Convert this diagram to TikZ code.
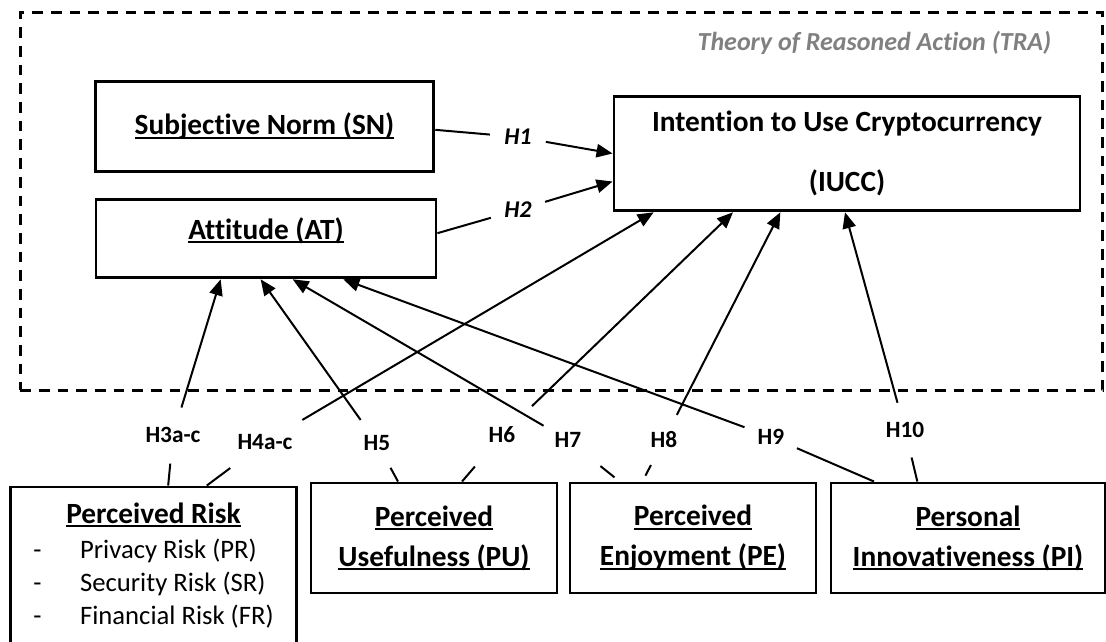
\documentclass[tikz,border=0pt]{standalone}
\usepackage{fontspec}
\setmainfont{Carlito}[RawFeature={-liga;-clig;-calt;-dlig}]
\usepackage{tikz}
\usetikzlibrary{arrows.meta}
\definecolor{tragray}{RGB}{128, 128, 128}
\newcommand\uln[1]{\setbox0\hbox{#1}\rlap{\rule[-3pt]{\wd0}{1.5pt}}\box0}

\begin{document}
\begin{tikzpicture}[x=0.75pt, y=-0.75pt,
	box/.style={draw, line width=2.2pt, align=center, inner sep=0pt, font=\fontsize{22}{30}\selectfont\bfseries},
	hyp/.style={circle, inner sep=0pt, minimum size=42pt, font=\fontsize{17.5}{20}\selectfont\bfseries},
	hypit/.style={hyp, font=\fontsize{18}{20}\selectfont\bfseries\itshape},
	link/.style={line width=1.5pt},
	arr/.style={link, -{Triangle[length=12pt, width=10pt]}}]
					\useasboundingbox (0,0) rectangle (1106,642);
					\clip (0,0) rectangle (1106,642);
					\node[draw, line width=2.2pt, dash pattern=on 8pt off 6pt, minimum width=812pt, minimum height=283pt] (frame) at (561.5,201.5) {};
					\node[font=\fontsize{19.5}{22}\selectfont\bfseries\itshape, text=tragray] (tra) at (874.5,43) {Theory of Reasoned Action (TRA)};
					\node[box, minimum width=254pt, minimum height=68pt] (SN) at (264.5,126.5) {\uln{Subjective Norm (SN)}};
					\node[box, minimum width=255pt, minimum height=59pt, text depth=15pt] (AT) at (266,238.5) {\uln{Attitude (AT)}};
					\node[box, minimum width=349.5pt, minimum height=86pt] (IUCC) at (847,153.5) {Intention to Use Cryptocurrency\\[15pt](IUCC)};
					\node[box, minimum width=214pt, minimum height=120pt] (PR) at (153.5,567) {\fontsize{20}{24.75}\selectfont\mdseries
						\begin{tabular}{@{}l@{\hspace{29pt}}l@{}}
							\multicolumn{2}{c}{\fontsize{22}{26}\selectfont\bfseries\uln{Perceived Risk}}\\[1.5pt]
							- & Privacy Risk (PR)\\
							- & Security Risk (SR)\\
							- & Financial Risk (FR)
						\end{tabular}};
					\node[box, minimum width=184.5pt, minimum height=82.5pt] (PU) at (434,538) {\uln{Perceived}\\\uln{Usefulness (PU)}};
					\node[box, minimum width=184.5pt, minimum height=82.5pt] (PE) at (693,538) {\uln{Perceived}\\\uln{Enjoyment (PE)}};
					\node[box, minimum width=205.5pt, minimum height=82.5pt] (PI) at (968,538) {\uln{Personal}\\\uln{Innovativeness (PI)}};

					\node[hypit] (h1) at (518,137) {H1};
					\node[hypit] (h2) at (518,210) {H2};
					\node[hyp] (h3) at (173,435) {H3a-c};
					\node[hyp] (h4) at (265,442) {H4a-c};
					\node[hyp] (h5) at (377,443) {H5};
					\node[hyp] (h6) at (502,435) {H6};
					\node[hyp] (h7) at (568,440) {H7};
					\node[hyp] (h8) at (664,440) {H8};
					\node[hyp] (h9) at (771,437) {H9};
					\node[hyp] (h10) at (905,430) {H10};

					\draw[link] ([yshift=-2.5pt]SN.east) -- (h1);
					\draw[arr] (h1) -- (IUCC.west);
					\draw[link] ([yshift=4pt]AT.east) -- (h2);
					\draw[arr] (h2) -- ([yshift=-21pt]IUCC.west);
					\draw[link] ([xshift=11pt]PR.north) -- (h3);
					\draw[arr] (h3) -- ([xshift=-34pt]AT.south);
					\draw[link, shorten >=11pt] ([xshift=40pt]PR.north) -- (h4);
					\draw[arr, shorten <=11pt] (h4) -- ([xshift=-145pt]IUCC.south);
					\draw[link] ([xshift=-27pt]PU.north) -- (h5);
					\draw[arr] (h5) -- ([xshift=-4pt]AT.south);
					\draw[link, shorten >=10pt] ([xshift=21pt]PU.north) -- (h6);
					\draw[arr, shorten <=10pt] (h6) -- ([xshift=-85.5pt]IUCC.south);
					\draw[link, shorten <=5pt, shorten >=10pt] ([xshift=-55pt]PE.north) -- (h7);
					\draw[arr] (h7) -- ([xshift=20pt]AT.south);
					\draw[link, shorten <=5pt] ([xshift=-38pt]PE.north) -- (h8);
					\draw[arr] (h8) -- ([xshift=-50pt]IUCC.south);
					\draw[link] ([xshift=-70.5pt]PI.north) -- (h9);
					\draw[arr] (h9) -- ([xshift=58pt]AT.south);
					\draw[link] ([xshift=-38pt]PI.north) -- (h10);
					\draw[arr] (h10) -- ([xshift=-1.5pt]IUCC.south);
				\end{tikzpicture}
\end{document}
